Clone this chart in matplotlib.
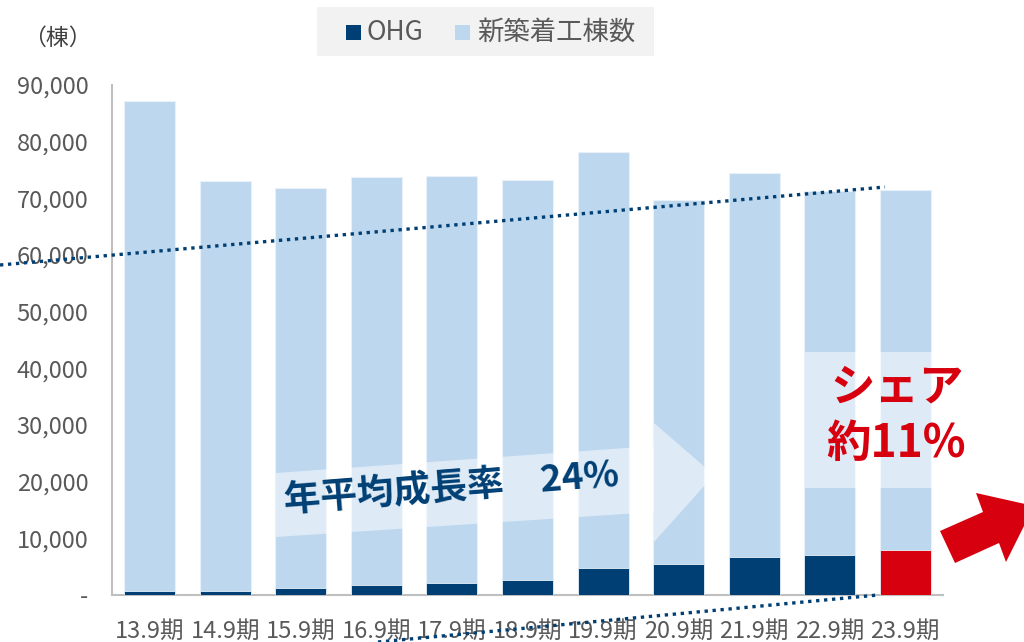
import matplotlib
matplotlib.use('Agg')
import matplotlib.pyplot as plt
from matplotlib.patches import Polygon, Rectangle
from matplotlib.lines import Line2D

plt.rcParams['font.family'] = ['Noto Sans CJK JP', 'DejaVu Sans']

# ---- data ----
categories = ['13.9期', '14.9期', '15.9期', '16.9期', '17.9期', '18.9期',
              '19.9期', '20.9期', '21.9期', '22.9期', '23.9期']
total_starts = [87200, 73100, 71800, 73800, 74000, 73200, 78200, 69700, 74500, 71300, 71500]
ohg = [700, 750, 1250, 1750, 2100, 2650, 4800, 5500, 6700, 7100, 7950]
yticks = [0, 10000, 20000, 30000, 40000, 50000, 60000, 70000, 80000, 90000]
ytick_labels = ['-' if v == 0 else f'{v:,}' for v in yticks]
legend_labels = ['OHG', '新築着工棟数']

NAVY = '#003F74'
LIGHT = '#BDD7EE'
RED = '#D7000F'
GRAY_TXT = '#595959'

W, H = 1024, 642
fig = plt.figure(figsize=(W / 100, H / 100), dpi=100)


def P(x, y):
    return (x / W, 1 - y / H)


ax = fig.add_axes([112 / W, 1 - 595 / H, (943 - 112) / W, (595 - 85) / H])
xs = list(range(len(categories)))
ax.bar(xs, total_starts, width=0.675, color=LIGHT, edgecolor='#E8F1FA', linewidth=0.8, zorder=2)
ohg_colors = [NAVY] * (len(categories) - 1) + [RED]
ax.bar(xs, ohg, width=0.675, color=ohg_colors, edgecolor='#E8F1FA', linewidth=0.6, zorder=3)

ax.set_xlim(-0.5, len(categories) - 0.5)
ax.set_ylim(0, 90000)
ax.set_yticks(yticks)
ax.set_yticklabels(ytick_labels)
ax.set_xticks(xs)
ax.set_xticklabels(categories)
ax.tick_params(axis='both', length=0, labelsize=17, colors=GRAY_TXT)
ax.tick_params(axis='y', pad=17)
ax.tick_params(axis='x', pad=18)
for s in ['top', 'right']:
    ax.spines[s].set_visible(False)
for s in ['left', 'bottom']:
    ax.spines[s].set_color('#BFBFBF')
    ax.spines[s].set_linewidth(1.5)

# unit label
fig.text(*P(57, 38), '（棟）', ha='center', va='center', fontsize=16.5, color='#404040')

# legend (manual box)
fig.add_artist(Rectangle(P(317, 56), 337 / W, 49 / H, transform=fig.transFigure,
                         facecolor='#F2F2F2', edgecolor='none', zorder=1))
fig.add_artist(Rectangle(P(346, 40), 15 / W, 15 / H, transform=fig.transFigure,
                         facecolor=NAVY, edgecolor='none', zorder=2))
fig.text(*P(367, 32), legend_labels[0], ha='left', va='center', fontsize=19, color=GRAY_TXT)
fig.add_artist(Rectangle(P(455, 40), 15 / W, 15 / H, transform=fig.transFigure,
                         facecolor=LIGHT, edgecolor='none', zorder=2))
fig.text(*P(477, 32), legend_labels[1], ha='left', va='center', fontsize=19, color=GRAY_TXT)

# translucent growth arrow
arrow_pts = [P(276, 473), P(654, 446), P(654, 423), P(714, 475),
             P(654, 542), P(654, 512), P(276, 537)]
fig.add_artist(Polygon(arrow_pts, closed=True, transform=fig.transFigure,
                       facecolor='white', alpha=0.5, edgecolor='none', zorder=1))
fig.text(*P(451, 489), '年平均成長率　24%', ha='center', va='center', fontsize=26.5,
         fontweight='bold', color=NAVY, rotation=4.5, rotation_mode='anchor', zorder=3)

# share box
fig.add_artist(Rectangle(P(805, 488), 135 / W, 136 / H, transform=fig.transFigure,
                         facecolor='white', alpha=0.5, edgecolor='none', zorder=1))
fig.text(*P(897, 388), 'シェア', ha='center', va='center', fontsize=32,
         fontweight='bold', color=RED, zorder=3)
fig.text(*P(896, 444), '約11%', ha='center', va='center', fontsize=32,
         fontweight='bold', color=RED, zorder=3)

# red arrow
red_pts = [P(940, 531), P(983, 512), P(976, 493), P(1034, 506),
           P(1006, 562), P(999, 543), P(955, 563)]
fig.add_artist(Polygon(red_pts, closed=True, transform=fig.transFigure,
                       facecolor=RED, edgecolor='none', zorder=2))

# dotted trend lines
for (x0, y0), (x1, y1) in [((0, 265), (885, 187)), ((378, 642), (878, 595))]:
    a, b = P(x0, y0), P(x1, y1)
    ln = Line2D([a[0], b[0]], [a[1], b[1]], transform=fig.transFigure,
                color=NAVY, linewidth=2.4, dashes=(1, 1.4), dash_capstyle='butt', zorder=4)
    fig.add_artist(ln)

fig.savefig('out.png', dpi=100)
